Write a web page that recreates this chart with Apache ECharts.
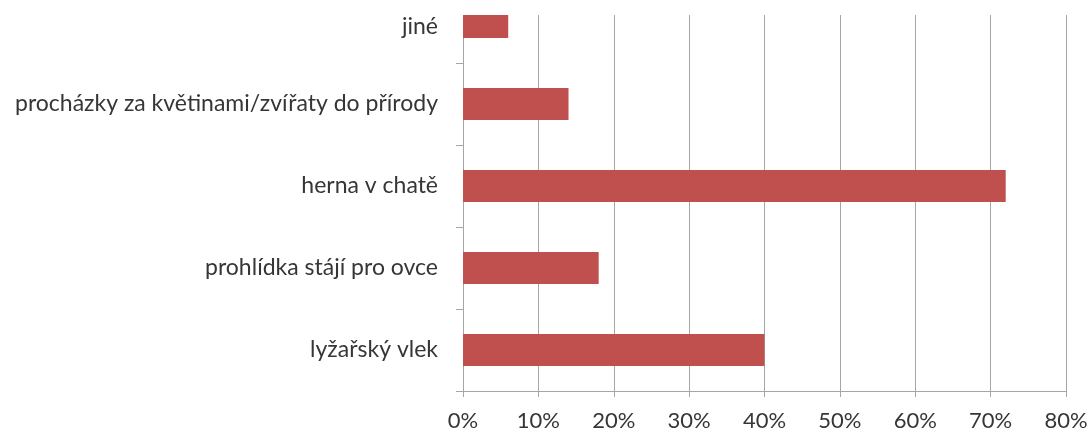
<!DOCTYPE html>
<html><head><meta charset="utf-8">
<script src="https://cdn.jsdelivr.net/npm/echarts@6/dist/echarts.min.js"></script>
<style>html,body{margin:0;padding:0;background:#fff}#c{width:1091px;height:428px}</style>
</head><body><div id="c"></div>
<script>
const categories = ["lyžařský vlek", "prohlídka stájí pro ovce", "herna v chatě", "procházky za květinami/zvířaty do přírody", "jiné"];
const values = [40, 18, 72, 14, 6];
const xTicks = [0, 10, 20, 30, 40, 50, 60, 70, 80];

const chart = echarts.init(document.getElementById('c'), null, {renderer: 'canvas'});
chart.setOption({
  animation: false,
  backgroundColor: '#ffffff',
  grid: {left: 463, right: 25, top: -19, bottom: 37, containLabel: false, outerBoundsMode: 'none'},
  xAxis: {
    type: 'value', min: xTicks[0], max: xTicks[xTicks.length - 1], interval: 10,
    axisLine: {show: true, lineStyle: {color: '#a6a6a6', width: 1}},
    axisTick: {show: true, length: 6, lineStyle: {color: '#a6a6a6'}},
    splitLine: {show: true, lineStyle: {color: '#a6a6a6', width: 1}},
    axisLabel: {formatter: v => v + '%', color: '#363636', fontFamily: 'Lato', fontSize: 22, margin: 19}
  },
  yAxis: {
    type: 'category', data: categories,
    axisLine: {show: true, lineStyle: {color: '#a6a6a6', width: 1}},
    axisTick: {show: true, length: 7, lineStyle: {color: '#a6a6a6'}},
    splitLine: {show: false},
    axisLabel: {
      color: '#363636', fontFamily: 'Lato', fontSize: 23, margin: 25,
      formatter: (v, i) => i === categories.length - 1 ? '{low|' + v + '}' : v,
      rich: {low: {color: '#363636', fontFamily: 'Lato', fontSize: 23, padding: [10, 0, 0, 0]}}
    }
  },
  series: [{
    type: 'bar', data: values, barWidth: 32,
    itemStyle: {color: '#c0504d'}
  }],
  graphic: [{
    type: 'rect', z: 100, silent: true,
    shape: {x: 450, y: 0, width: 641, height: 15},
    style: {fill: '#ffffff'}
  }]
});
</script></body></html>
